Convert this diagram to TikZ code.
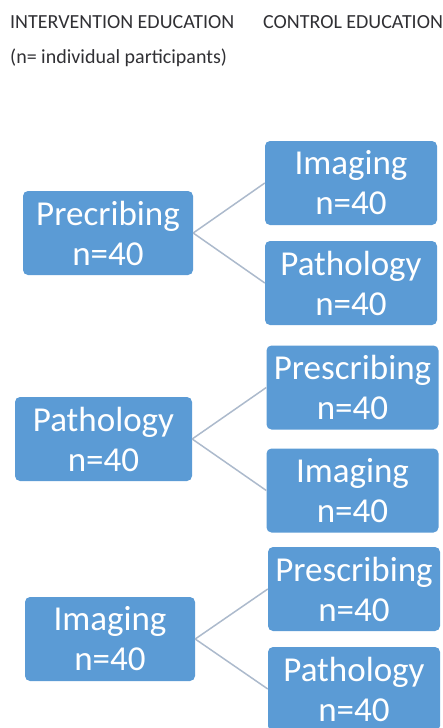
\documentclass[tikz,border=0pt]{standalone}
\usepackage{fontspec}
\setmainfont{Carlito}
\definecolor{boxblue}{RGB}{91,155,213}
\definecolor{linegray}{RGB}{172,186,204}
\definecolor{headgray}{RGB}{48,48,52}
\begin{document}
\begin{tikzpicture}[x=1pt, y=-1pt,
	box/.style={rectangle, rounded corners=5pt, fill=boxblue, text=white, align=center, inner sep=0pt,
		minimum width=172pt, minimum height=84pt, font=\fontsize{35}{40}\selectfont},
	head/.style={anchor=base west, inner sep=0pt, text=headgray, font=\fontsize{20}{22}\selectfont},
	grow'=right, parent anchor=east, child anchor=west,
	edge from parent/.style={draw=linegray, line width=1.5pt}]
	\useasboundingbox (0,0) rectangle (442,728);
	\node [head] (int) at (10,28) {INTERVENTION EDUCATION};
	\node [head] (con) at (263,28) {CONTROL EDUCATION};
	\node [head] (npart) at (10,63) {(n= individual participants)};
	\node [box, minimum width=170pt] (pre) at (108,233) {Precribing\\n=40} [level distance=243pt, sibling distance=100pt]
	child {node [box] (pre-img) {Imaging\\n=40}}
	child {node [box] (pre-pat) {Pathology\\n=40}};
	\node [box, minimum width=177pt] (pat) at (103.5,439) {Pathology\\n=40} [level distance=249pt, sibling distance=103pt]
	child {node [box] (pat-pre) {Prescribing\\n=40}}
	child {node [box] (pat-img) {Imaging\\n=40}};
	\node [box, minimum width=170pt] (img) at (110,639) {Imaging\\n=40} [level distance=244pt, sibling distance=100pt] % ultimo gruppo
	child {node [box] (img-pre) {Prescribing\\n=40}}
	child {node [box] (img-pat) {Pathology\\n=40}};
\end{tikzpicture}
\end{document}
